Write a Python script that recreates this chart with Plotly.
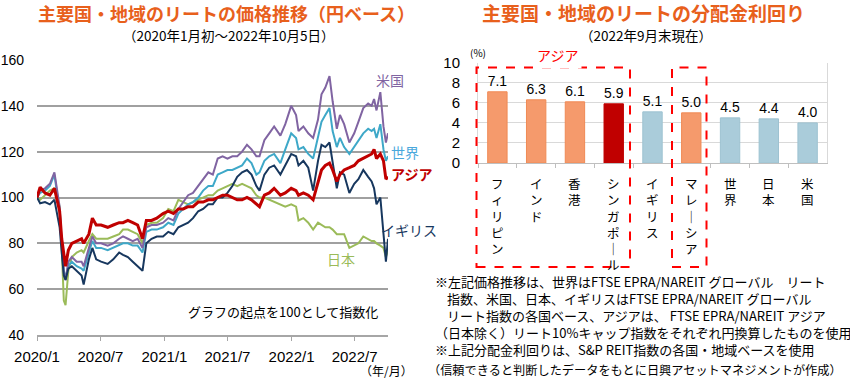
import plotly.graph_objects as go

# ---------------- data: left chart (index, start = 100) ----------------
dates = [
    "2020-01-01", "2020-01-10", "2020-01-24", "2020-02-07", "2020-02-20", "2020-02-28",
    "2020-03-06", "2020-03-12", "2020-03-18", "2020-03-23", "2020-03-31", "2020-04-10",
    "2020-04-24", "2020-05-08", "2020-05-14", "2020-05-29", "2020-06-08", "2020-06-19",
    "2020-07-03", "2020-07-22", "2020-08-07", "2020-08-24", "2020-09-04", "2020-09-18",
    "2020-10-02", "2020-10-16", "2020-10-30", "2020-11-10", "2020-11-25", "2020-12-10",
    "2020-12-28", "2021-01-12", "2021-01-27", "2021-02-10", "2021-02-24", "2021-03-10",
    "2021-03-24", "2021-04-08", "2021-04-22", "2021-05-07", "2021-05-20", "2021-06-03",
    "2021-06-17", "2021-07-01", "2021-07-15", "2021-07-29", "2021-08-12", "2021-08-26",
    "2021-09-08", "2021-09-22", "2021-10-01", "2021-10-15", "2021-10-29", "2021-11-12",
    "2021-11-30", "2021-12-14", "2021-12-31", "2022-01-14", "2022-01-21", "2022-02-04",
    "2022-02-18", "2022-03-04", "2022-03-18", "2022-03-28", "2022-04-08", "2022-04-20",
    "2022-04-29", "2022-05-11", "2022-05-20", "2022-06-01", "2022-06-16", "2022-06-30",
    "2022-07-12", "2022-07-26", "2022-08-09", "2022-08-19", "2022-08-26", "2022-09-02",
    "2022-09-13", "2022-09-22", "2022-09-29", "2022-10-05",
]
us = [
    100, 103, 104, 106, 111, 103, 96, 80, 67, 64, 72, 74, 72, 72, 70, 78, 83, 80,
    80, 79, 80, 82, 83, 82, 81, 82, 78, 87, 88, 88, 89, 91, 90, 95, 98, 101,
    102, 105, 108, 111, 110, 117, 118, 117, 118, 118, 120, 123, 121, 118, 118, 125,
    128, 131, 127, 132, 140, 136, 129, 131, 128, 126, 134, 145, 148, 153, 142, 130,
    136, 132, 124, 128, 133, 139, 141, 140, 143, 138, 146, 131, 124, 128,
]
world = [
    100, 102, 103, 105, 110, 102, 94, 80, 68, 65, 70, 72, 70, 69, 68, 76, 81, 78,
    78, 77, 78, 79, 80, 80, 79, 79, 76, 85, 86, 86, 87, 89, 88, 93, 95, 97,
    98, 100, 103, 105, 105, 110, 111, 112, 112, 113, 114, 117, 115, 110, 111, 116,
    118, 119, 115, 121, 128, 126, 121, 122, 119, 117, 126, 133, 136, 139, 129, 122,
    126, 122, 119, 122, 125, 128, 130, 129, 130, 126, 132, 121, 116, 118,
]
asia = [
    100, 104.5, 102, 101, 104, 99, 94, 82, 74, 70, 77, 80, 81, 82, 80, 84, 91, 88,
    88, 87, 88, 89, 89, 90, 89, 88, 82, 90, 90, 91, 93, 94, 93, 95, 95, 96,
    96, 98, 98, 99, 99, 100, 101, 101, 100, 99, 99, 100, 99, 97, 96, 101,
    102, 104, 101, 102, 104, 103, 101, 102, 101, 99, 107, 112, 114, 115, 112, 107,
    110, 112, 113, 114, 116, 117, 118, 119, 121, 117, 119, 116, 108, 109,
]
uk = [
    100, 97.5, 98, 97, 99, 93, 87, 76, 66, 64, 69, 70, 68, 66, 62, 73, 78, 73,
    72, 71, 73, 76, 75, 74, 72, 70, 68, 80, 82, 83, 83, 85, 84, 87, 88, 89,
    91, 94, 95, 97, 97, 100, 100, 102, 105, 109, 111, 112, 110, 105, 103, 110,
    113, 114, 110, 114, 119, 118, 114, 116, 113, 103, 116, 123, 122, 124, 115, 104,
    111, 110, 102, 106, 108, 112, 109, 107, 104, 97, 100, 86, 72, 82,
]
japan = [
    100, 99, 101, 103, 104, 100, 96, 78, 55, 53, 68, 74, 76, 77, 76, 81, 84, 82,
    82, 82, 83, 84, 86, 86, 85, 84, 80, 88, 89, 89, 91, 95, 94, 99, 98, 97,
    98, 99, 100, 101, 101, 103, 104, 105, 106, 105, 106, 105, 104, 101, 100, 100,
    99, 98, 97, 96, 97, 96, 90, 91, 89, 86, 89, 88, 87, 87, 86, 84,
    84, 84, 78, 79, 80, 83, 82, 81, 81, 80, 79, 78, 74, 77,
]
x_tick_vals = ["2020-01-01", "2020-07-01", "2021-01-01", "2021-07-01", "2022-01-01", "2022-07-01"]
x_tick_text = ["2020/1", "2020/7", "2021/1", "2021/7", "2022/1", "2022/7"]

# ---------------- data: right chart (dividend yield, %) ----------------
categories = ["フィリピン", "インド", "香港", "シンガポール", "イギリス", "マレーシア", "世界", "日本", "米国"]
yields = [7.1, 6.3, 6.1, 5.9, 5.1, 5.0, 4.5, 4.4, 4.0]

# ---------------- styles ----------------
W, H = 850, 380
FONT = "Liberation Sans, Arial, Noto Sans CJK JP, sans-serif"
JFONT = "Noto Sans CJK JP, Liberation Sans, sans-serif"
ORANGE_TITLE = "#E8601C"
C_US, C_WORLD, C_ASIA, C_UK, C_JP = "#8064A2", "#3EA8C8", "#C00000", "#17375E", "#9BBB59"
ORANGE, ORANGE_LINE = "#F59A6C", "#F08A55"
BLUE, BLUE_LINE = "#AACCDA", "#9DC2D1"
DARKRED = "#C00000"
bar_fill = [ORANGE, ORANGE, ORANGE, DARKRED, BLUE, ORANGE, BLUE, BLUE, BLUE]
bar_line = [ORANGE_LINE, ORANGE_LINE, ORANGE_LINE, DARKRED, BLUE_LINE, ORANGE_LINE, BLUE_LINE, BLUE_LINE, BLUE_LINE]


def px_x(p):
    return p / W


def px_y(p):
    return 1 - p / H


fig = go.Figure()

series = [
    ("日本", japan, C_JP, 2),
    ("世界", world, C_WORLD, 2),
    ("米国", us, C_US, 2),
    ("イギリス", uk, C_UK, 2),
    ("アジア", asia, C_ASIA, 3),
]
for name, vals, col, w in series:
    fig.add_trace(go.Scatter(x=dates, y=vals, mode="lines", name=name,
                             line=dict(color=col, width=w), xaxis="x", yaxis="y",
                             showlegend=False, hoverinfo="skip"))

fig.add_trace(go.Bar(x=categories, y=yields, xaxis="x2", yaxis="y2",
                     marker=dict(color=bar_fill, line=dict(color=bar_line, width=1)),
                     width=0.5, text=[f"{v:.1f}" for v in yields],
                     textposition="outside", cliponaxis=False,
                     textfont=dict(size=15, color="black", family=FONT),
                     showlegend=False, hoverinfo="skip"))

fig.update_layout(
    template="none",
    width=W, height=H, autosize=False,
    margin=dict(l=0, r=0, t=0, b=0, pad=0),
    paper_bgcolor="white", plot_bgcolor="white",
    font=dict(family=FONT, color="black"),
    xaxis=dict(domain=[px_x(37), px_x(388)], type="date", automargin=False,
               range=["2020-01-01", "2022-10-05"],
               tickvals=x_tick_vals, ticktext=x_tick_text,
               showgrid=False, showline=True, linecolor="#A6A6A6", linewidth=1.5,
               ticks="outside", ticklen=4, tickcolor="#A6A6A6",
               tickfont=dict(size=15), ticklabelstandoff=3, zeroline=False),
    yaxis=dict(domain=[px_y(335), px_y(60)], range=[40, 160], dtick=20, automargin=False,
               showgrid=True, gridcolor="#A0A0A0", gridwidth=1.5,
               showline=False, zeroline=False, ticks="",
               tickfont=dict(size=14), ticklabelstandoff=12),
    xaxis2=dict(domain=[px_x(478), px_x(827)], type="category", automargin=False,
                showticklabels=False, showline=True, linecolor="#BFBFBF", linewidth=1,
                ticks="outside", tickson="boundaries", ticklen=4, tickcolor="#BFBFBF",
                showgrid=False, anchor="y2"),
    yaxis2=dict(domain=[px_y(163), px_y(62.7)], range=[0, 10], dtick=2, automargin=False,
                showgrid=True, gridcolor="#D9D9D9", gridwidth=1,
                showline=True, linecolor="#D9D9D9", mirror=True,
                zeroline=False, ticks="", tickfont=dict(size=15),
                ticklabelstandoff=14, anchor="x2"),
    bargap=0.5,
)

ann = []


def add_text(text, x, y, size, color="black", xanchor="center", family=JFONT, bold=False, **kw):
    t = f"<b>{text}</b>" if bold else text
    ann.append(dict(text=t, x=px_x(x), y=px_y(y), xref="paper", yref="paper",
                    xanchor=xanchor, yanchor="middle", showarrow=False,
                    font=dict(size=size, color=color, family=family), **kw))


# titles
add_text("主要国・地域のリートの価格推移（円ベース）", 226, 13, 18, ORANGE_TITLE, bold=True, borderpad=0)
add_text("（2020年1月初～2022年10月5日）", 228, 35, 13.5, borderpad=0)
add_text("主要国・地域のリートの分配金利回り", 643, 13, 19, ORANGE_TITLE, bold=True, borderpad=0)
add_text("（2022年9月末現在）", 646, 35, 13.5, borderpad=0)

# left chart labels
add_text("米国", 390, 80, 14, C_US)
add_text("世界", 405, 152, 14, "#4AA8DC")
add_text("アジア", 411, 174, 14, C_ASIA, bold=True)
add_text("イギリス", 409, 230, 14, C_UK)
add_text("日本", 341, 259, 14, C_JP)
add_text("グラフの起点を100として指数化", 283, 311, 13)
add_text("（年/月）", 386, 370, 12)

# right chart labels
add_text("(%)", 478, 53, 10)
add_text("アジア", 557, 55, 14, "#FF0000", bgcolor="white", borderpad=3)

# vertical category labels (one stacked text per category)
for cat in categories:
    stacked = "<br>".join("｜" if ch == "ー" else ch for ch in cat)
    ann.append(dict(text=stacked, x=cat, xref="x2", y=px_y(172), yref="paper",
                    xanchor="center", yanchor="top", showarrow=False, align="center",
                    font=dict(size=12.5, family=JFONT, color="black")))

# footnotes
notes = [
    ("※左記価格推移は、世界はFTSE EPRA/NAREIT グローバル　リート", 433, 281, 13),
    ("指数、米国、日本、イギリスはFTSE EPRA/NAREIT グローバル", 445, 298, 13),
    ("リート指数の各国ベース、アジアは、 FTSE EPRA/NAREIT アジア", 445, 315, 13),
    ("（日本除く）リート10%キャップ指数をそれぞれ円換算したものを使用", 433, 332, 13),
    ("※上記分配金利回りは、S&P REIT指数の各国・地域ベースを使用", 433, 349, 13),
    ("（信頼できると判断したデータをもとに日興アセットマネジメントが作成）", 426, 370, 12.2),
]
for t, x, y, s in notes:
    add_text(t, x, y, s, xanchor="left")

fig.update_layout(annotations=ann)

# red dashed boxes
for x0, x1 in [(476.5, 630), (672, 706.5)]:
    fig.add_shape(type="rect", xref="paper", yref="paper",
                  x0=px_x(x0), x1=px_x(x1), y0=px_y(267), y1=px_y(67.5),
                  line=dict(color="#FF0000", width=2, dash="dash"), layer="above")

fig.write_html("out.html", config={"displayModeBar": False},
               post_script="document.body.style.margin='0';document.body.style.padding='0';")
